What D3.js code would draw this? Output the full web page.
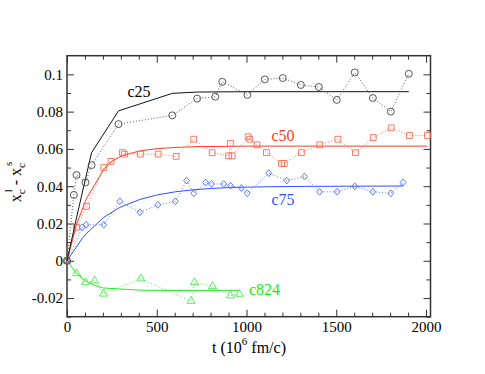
<!DOCTYPE html>
<html>
<head>
<meta charset="utf-8">
<script src="https://cdn.jsdelivr.net/npm/d3@7"></script>
<style>
  body { margin: 0; background: #fff; }
</style>
</head>
<body>
<div id="chart"></div>
<script>
// ---- data ---------------------------------------------------------------
// c25 : circles, dotted
var c25T   = [0, 38, 53, 103, 137, 287, 587, 725, 826, 865, 1005, 1102, 1202, 1303, 1403, 1503, 1603, 1704, 1804, 1904];
var c25Y   = [0, 0.0353, 0.046, 0.042, 0.0513, 0.0733, 0.078, 0.087, 0.088, 0.096, 0.089, 0.0973, 0.098, 0.0943, 0.0932, 0.0863, 0.101, 0.0873, 0.080, 0.1003];
var c25FitT = [0, 38, 53, 103, 137, 287, 587, 725, 1005, 1904];
var c25FitY = [0, 0.0165, 0.023, 0.044, 0.058, 0.0804, 0.0898, 0.0905, 0.0907, 0.0907];

// c50 : squares, dotted
var c50T   = [0, 53, 109, 205, 245, 309, 320, 409, 508, 608, 706, 809, 900, 910, 920, 1009, 1018, 1059, 1111, 1195, 1210, 1306, 1408, 1509, 1607, 1706, 1806, 1908, 2008];
var c50Y   = [0, 0.018, 0.0292, 0.050, 0.0533, 0.058, 0.0572, 0.0572, 0.0572, 0.056, 0.0652, 0.058, 0.0563, 0.0629, 0.0563, 0.0665, 0.0652, 0.0622, 0.058, 0.0522, 0.0522, 0.058, 0.0622, 0.0652, 0.058, 0.0661, 0.0713, 0.0672, 0.0672];
var c50FitT = [0, 53, 109, 205, 245, 309, 409, 508, 608, 706, 1009, 2008];
var c50FitY = [0, 0.0195, 0.0335, 0.049, 0.053, 0.0565, 0.059, 0.0602, 0.0608, 0.0612, 0.0615, 0.0615];

// c75 : diamonds, dotted
var c75T   = [0, 85, 107, 205, 294, 406, 506, 604, 666, 706, 772, 805, 873, 911, 972, 1004, 1124, 1224, 1323, 1407, 1505, 1603, 1704, 1804, 1872];
var c75Y   = [0, 0.018, 0.0193, 0.0193, 0.0319, 0.026, 0.030, 0.0319, 0.043, 0.0362, 0.042, 0.0412, 0.0412, 0.0403, 0.039, 0.0362, 0.047, 0.043, 0.0452, 0.037, 0.037, 0.0399, 0.037, 0.0362, 0.042];
var c75FitT = [0, 85, 107, 205, 294, 406, 506, 604, 706, 805, 911, 1004, 1124, 1323, 1872];
var c75FitY = [0, 0.012, 0.0145, 0.0233, 0.0286, 0.0329, 0.0354, 0.0370, 0.0381, 0.0388, 0.0393, 0.0395, 0.0397, 0.0399, 0.0401];

// c824 : triangles, dotted
var c824T  = [0, 53, 104, 153, 203, 412, 691, 710, 811, 910, 960];
var c824Y  = [0, -0.0068, -0.0116, -0.0107, -0.0177, -0.0096, -0.0216, -0.0116, -0.0137, -0.0187, -0.0178];
var c824FitT = [0, 53, 104, 153, 203, 412, 691, 960];
var c824FitY = [0, -0.0068, -0.0108, -0.0132, -0.0146, -0.0158, -0.016, -0.016];

var xTicks = [0, 500, 1000, 1500, 2000];
var yTicks = [-0.02, 0, 0.02, 0.04, 0.06, 0.08, 0.1];

// ---- layout --------------------------------------------------------------
var W = 485, H = 374;
var plotL = 67, plotR = 430.5, plotT = 55.7, plotB = 316.7;
var serif = "Liberation Serif";

var svg = d3.select("#chart").append("svg").attr("width", W).attr("height", H);

var x = d3.scaleLinear().domain([0, 2025]).range([plotL, plotR]);
var y = d3.scaleLinear().domain([-0.03, 0.11]).range([plotB, plotT]);

var xMinor = d3.range(0, 2001, 100).filter(function(v) { return v % 500 !== 0; });
var yMinor = d3.range(-3, 11).map(function(v) { return v / 100; }).filter(function(v) { return Math.round(v * 100) % 2 !== 0; });

function fmtY(d) { return d === 0 ? "0" : String(+d.toFixed(2)); }

// minor ticks
function minor(axis, vals, pos) {
  var g = svg.append("g").attr("transform", pos)
    .call(axis.tickValues(vals).tickSize(-4).tickFormat(""));
  g.select(".domain").remove();
  g.selectAll("line").attr("stroke", "#333");
}
minor(d3.axisBottom(x), xMinor, "translate(0," + plotB + ")");
minor(d3.axisTop(x), xMinor, "translate(0," + plotT + ")");
minor(d3.axisLeft(y), yMinor, "translate(" + plotL + ",0)");
minor(d3.axisRight(y), yMinor, "translate(" + plotR + ",0)");

// major ticks
var gx = svg.append("g").attr("transform", "translate(0," + plotB + ")")
  .call(d3.axisBottom(x).tickValues(xTicks).tickSize(-7).tickPadding(5).tickFormat(d3.format("d")));
var gxt = svg.append("g").attr("transform", "translate(0," + plotT + ")")
  .call(d3.axisTop(x).tickValues(xTicks).tickSize(-7).tickFormat(""));
var gy = svg.append("g").attr("transform", "translate(" + plotL + ",0)")
  .call(d3.axisLeft(y).tickValues(yTicks).tickSize(-7).tickPadding(4).tickFormat(fmtY));
var gyr = svg.append("g").attr("transform", "translate(" + plotR + ",0)")
  .call(d3.axisRight(y).tickValues(yTicks).tickSize(-7).tickFormat(""));

[gx, gxt, gy, gyr].forEach(function(g) {
  g.attr("font-family", serif).attr("font-size", 15);
  g.select(".domain").remove();
  g.selectAll("line").attr("stroke", "#333");
  g.selectAll("text").attr("fill", "#000");
});

svg.append("rect")
  .attr("x", plotL).attr("y", plotT)
  .attr("width", plotR - plotL).attr("height", plotB - plotT)
  .attr("fill", "none").attr("stroke", "#333").attr("stroke-width", 1.5);

// ---- series ---------------------------------------------------------------
var line = d3.line().x(function(d) { return x(d[0]); }).y(function(d) { return y(d[1]); });

function zip(a, b) { return a.map(function(v, i) { return [v, b[i]]; }); }

function series(T, Y, FT, FY, color, markColor, symbol, size) {
  var pts = zip(T, Y);
  svg.append("path").datum(zip(FT, FY)).attr("d", line)
    .attr("fill", "none").attr("stroke", color).attr("stroke-width", 1);
  svg.append("path").datum(pts).attr("d", line)
    .attr("fill", "none").attr("stroke", markColor).attr("stroke-width", 0.9)
    .attr("stroke-dasharray", "1,2");
  svg.selectAll(null).data(pts).enter().append("path")
    .attr("transform", function(d) { return "translate(" + x(d[0]) + "," + y(d[1]) + ")"; })
    .attr("d", d3.symbol().type(symbol).size(size))
    .attr("fill", "none").attr("stroke", markColor).attr("stroke-width", 0.9);
}

var diamond = {
  draw: function(ctx, size) {
    var r = Math.sqrt(size) / 2 * 1.25;
    ctx.moveTo(0, -r); ctx.lineTo(r * 0.85, 0); ctx.lineTo(0, r); ctx.lineTo(-r * 0.85, 0); ctx.closePath();
  }
};

series(c824T, c824Y, c824FitT, c824FitY, "#22ee22", "#44ee44", d3.symbolTriangle, 28);
series(c75T, c75Y, c75FitT, c75FitY, "#3050ff", "#4a6cff", diamond, 30);
series(c50T, c50Y, c50FitT, c50FitY, "#ff3b1f", "#ff6a50", d3.symbolSquare, 34);
series(c25T, c25Y, c25FitT, c25FitY, "#111", "#444", d3.symbolCircle, 38);

// ---- labels ---------------------------------------------------------------
function label(txt, px, py, color) {
  svg.append("text").attr("x", px).attr("y", py).attr("fill", color)
    .attr("font-family", serif).attr("font-size", 16).text(txt);
}
label("c25", 127.5, 97, "#000");
label("c50", 271.5, 141, "#ff3b1f");
label("c75", 271.5, 205, "#3050ff");
label("c824", 249, 295, "#11ee11");

// x title
var xt = svg.append("text").attr("x", 249).attr("y", 353).attr("text-anchor", "middle")
  .attr("font-family", serif).attr("font-size", 16).attr("fill", "#000");
xt.append("tspan").text("t (10");
xt.append("tspan").attr("dy", -8).attr("font-size", 11).text("6");
xt.append("tspan").attr("dy", 8).text(" fm/c)");

// y title
var yt = svg.append("text").attr("transform", "translate(21,182) rotate(-90)")
  .attr("text-anchor", "middle").attr("font-family", serif).attr("font-size", 16).attr("fill", "#000");
yt.append("tspan").text("x");
yt.append("tspan").attr("dy", 4).attr("font-size", 11).text("c");
yt.append("tspan").attr("dy", -13).attr("dx", -3).attr("font-size", 11).text("l");
yt.append("tspan").attr("dy", 9).text(" - x");
yt.append("tspan").attr("dy", 4).attr("font-size", 11).text("c");
yt.append("tspan").attr("dy", -13).attr("dx", -3).attr("font-size", 11).text("s");
</script>
</body>
</html>
